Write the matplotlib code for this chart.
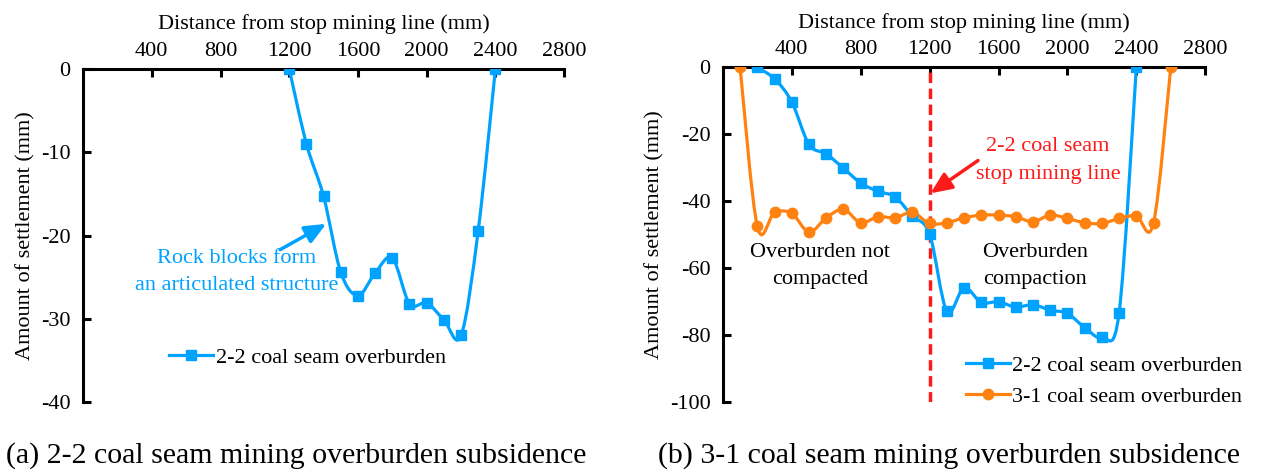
import matplotlib
matplotlib.use("Agg")
import matplotlib.pyplot as plt
from matplotlib.path import Path
from matplotlib.patches import PathPatch
from matplotlib.lines import Line2D

plt.rcParams['font.family'] = ['Liberation Serif', 'DejaVu Serif']
plt.rcParams['font.size'] = 16
plt.rcParams['axes.unicode_minus'] = False

BLUE = '#00A2FF'
ORANGE = '#FF8210'
RED = '#FF1A1A'

# (a) 2-2 coal seam mining
xa = [1200, 1300, 1400, 1500, 1600, 1700, 1800, 1900, 2000, 2100, 2200, 2300, 2400]
ya = [0, -9.0, -15.3, -24.4, -27.2, -24.5, -22.7, -28.2, -28.1, -30.1, -32.0, -19.4, 0]

# (b) 3-1 coal seam mining
xb_22 = [200, 300, 400, 500, 600, 700, 800, 900, 1000, 1100, 1200, 1300, 1400,
         1500, 1600, 1700, 1800, 1900, 2000, 2100, 2200, 2300, 2400]
yb_22 = [0, -3.4, -10.3, -23.0, -25.8, -30.1, -34.5, -37.0, -38.7, -44.4, -49.8, -72.8, -65.8,
         -70.2, -70.0, -71.6, -70.9, -72.5, -73.5, -77.7, -80.6, -73.3, 0]
xb_31 = [100, 200, 300, 400, 500, 600, 700, 800, 900, 1000, 1100, 1200, 1300, 1400,
         1500, 1600, 1700, 1800, 1900, 2000, 2100, 2200, 2300, 2400, 2500, 2600]
yb_31 = [0, -47.5, -43.3, -43.6, -49.2, -44.9, -42.4, -46.4, -44.6, -44.9, -43.3, -46.6, -46.4, -44.9,
         -44.1, -44.1, -44.6, -46.1, -44.1, -45.1, -46.4, -46.6, -45.1, -44.3, -46.4, 0]

xticks = [400, 800, 1200, 1600, 2000, 2400, 2800]


def smooth_path(x, y):
    # Excel-style smoothed line drawn as cubic Bezier segments
    pts = list(zip(x, y))
    n = len(pts)
    verts = [pts[0]]
    codes = [Path.MOVETO]
    for i in range(n - 1):
        p0 = pts[i - 1] if i > 0 else pts[i]
        p1 = pts[i]
        p2 = pts[i + 1]
        p3 = pts[i + 2] if i + 2 < n else pts[i + 1]
        c1 = (p1[0] + (p2[0] - p0[0]) / 6, p1[1] + (p2[1] - p0[1]) / 6)
        c2 = (p2[0] - (p3[0] - p1[0]) / 6, p2[1] - (p3[1] - p1[1]) / 6)
        verts += [c1, c2, p2]
        codes += [Path.CURVE4] * 3
    return Path(verts, codes)


def draw_series(ax, x, y, color, marker, ms, label):
    ax.add_patch(PathPatch(smooth_path(x, y), facecolor='none', edgecolor=color, lw=2.3, zorder=3))
    ax.plot(x, y, linestyle='none', marker=marker, ms=ms, color=color, zorder=4)
    return Line2D([], [], color=color, lw=2.3, marker=marker, ms=ms, label=label)


def style_axes(ax, ymin, ystep):
    ax.set_xlim(0, 2800)
    ax.set_ylim(ymin, 0)
    ax.xaxis.tick_top()
    ax.xaxis.set_label_position('top')
    ax.set_xticks(xticks)
    ax.set_yticks(list(range(ymin, 1, ystep)))
    ax.spines['right'].set_visible(False)
    ax.spines['bottom'].set_visible(False)
    ax.spines['left'].set_linewidth(2.2)
    ax.spines['top'].set_linewidth(2.2)
    ax.tick_params(direction='in', length=6, width=2.2, labelsize=16)
    ax.tick_params(axis='x', pad=6)
    ax.tick_params(axis='y', pad=9)
    ax.set_xlabel('Distance from stop mining line (mm)', fontsize=16, labelpad=9)
    ax.set_ylabel('Amount of settlement (mm)', fontsize=16, labelpad=4)


fig = plt.figure(figsize=(12.66, 4.72), dpi=100)
ax1 = fig.add_axes([0.0656, 0.148, 0.380, 0.706])
ax2 = fig.add_axes([0.571, 0.148, 0.381, 0.709])

arrow = dict(arrowstyle='-|>,head_length=0.8,head_width=0.35', lw=2.5, shrinkA=0, shrinkB=0)

# (a)
style_axes(ax1, -40, 10)
h = draw_series(ax1, xa, ya, BLUE, 's', 7, '2-2 coal seam overburden')
ax1.legend(handles=[h], loc='lower left', bbox_to_anchor=(0.16, 0.075), frameon=False,
           fontsize=16, handlelength=2.0, handletextpad=0.1, borderaxespad=0)
ax1.text(896, -24.4, 'Rock blocks form\nan articulated structure', color=BLUE, fontsize=16,
         ha='center', va='center', linespacing=1.6)
ax1.annotate('', xy=(1415, -18.6), xytext=(1147, -21.7), arrowprops=dict(arrow, color=BLUE))

# (b)
style_axes(ax2, -100, 20)
h1 = draw_series(ax2, xb_22, yb_22, BLUE, 's', 7, '2-2 coal seam overburden')
h2 = draw_series(ax2, xb_31, yb_31, ORANGE, 'o', 7.5, '3-1 coal seam overburden')
ax2.axvline(1200, color=RED, lw=2.5, linestyle=(0, (3, 1.6)), zorder=2)
ax2.legend(handles=[h1, h2], loc='lower left', bbox_to_anchor=(0.485, -0.04), frameon=False,
           fontsize=16, handlelength=2.0, handletextpad=0.1, labelspacing=0.45, borderaxespad=0)
ax2.text(1888, -27.8, '2-2 coal seam\nstop mining line', color=RED, fontsize=16,
         ha='center', va='center', linespacing=1.6)
ax2.annotate('', xy=(1205, -37.6), xytext=(1481, -27.8), arrowprops=dict(arrow, color=RED))
ax2.text(563, -59.4, 'Overburden not\ncompacted', ha='center', va='center', fontsize=16, linespacing=1.6)
ax2.text(1812, -59.4, 'Overburden\ncompaction', ha='center', va='center', fontsize=16, linespacing=1.6)

fig.text(0.234, 0.035, '(a) 2-2 coal seam mining overburden subsidence', ha='center', va='center', fontsize=21.5)
fig.text(0.75, 0.035, '(b) 3-1 coal seam mining overburden subsidence', ha='center', va='center', fontsize=21.5)

fig.savefig('out.png', dpi=100)
